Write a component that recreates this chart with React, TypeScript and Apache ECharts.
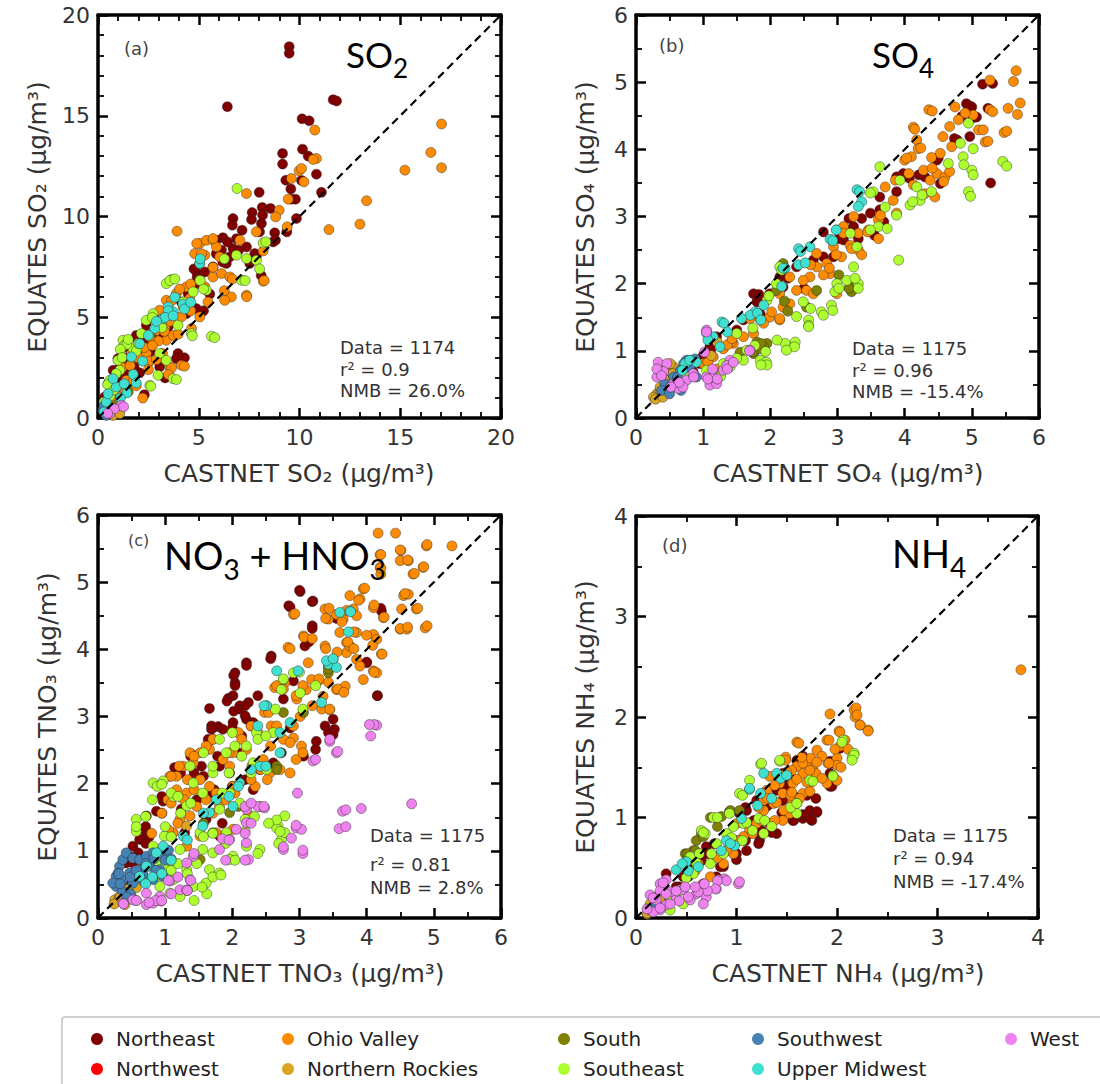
import React, { useEffect, useRef } from "react";
import * as echarts from "echarts";

// ---------------- regions ----------------
const REGION_NAMES = ["Northeast", "Northwest", "Ohio Valley", "Northern Rockies", "South", "Southeast", "Southwest", "Upper Midwest", "West"];
const REGION_COLORS = ["#800000", "#ff0000", "#ff8c00", "#daa520", "#808000", "#adff2f", "#4682b4", "#40e0d0", "#ee82ee"];

// ---------------- (a) SO2 ----------------
const so2Northeast = [[9.49,18.43],[9.49,18.1],[6.42,15.45],[11.67,15.8],[11.84,15.73],[10.13,14.85],[10.48,14.75],[9.16,13.13],[9.16,12.6],[10.15,13.34],[10.43,13.0],[10.84,12.1],[11.09,11.2],[9.32,11.8],[9.57,11.37],[9.6,10.86],[9.8,10.86],[10.1,11.79],[8.0,11.2],[7.65,10.2],[8.15,10.45],[6.7,9.9],[7.15,9.32],[9.85,9.9],[8.77,9.19],[8.56,10.4],[8.11,9.65],[6.2,8.95],[6.87,8.9],[7.37,8.49],[6.13,8.33],[6.54,8.0],[7.78,8.16],[8.69,8.74],[4.92,7.17],[4.97,6.67],[4.47,6.18],[4.14,5.76],[4.88,5.43],[3.73,5.18],[2.9,4.85],[2.4,4.6],[1.9,4.1],[1.4,3.53],[0.99,2.95],[0.75,2.37],[0.5,1.7],[0.33,1.04],[1.74,2.86],[1.49,2.53],[2.07,3.28],[2.57,3.69],[3.06,2.53],[3.97,3.2],[3.89,2.95],[3.23,4.19],[3.48,4.52],[4.39,5.18],[5.3,7.25],[5.71,7.5],[6.37,7.67],[6.7,8.41],[7.53,7.67],[7.86,8.0],[2.07,2.24],[2.52,2.78],[1.27,1.46],[0.91,1.04],[0.41,0.55],[1.08,2.04],[6.67,9.57],[7.62,9.85],[8.17,10.07],[8.81,8.82],[9.37,9.24],[8.02,9.24],[5.87,8.82],[6.43,8.74],[6.98,8.32],[5.87,8.15],[6.19,7.74],[4.76,7.4],[4.92,6.98],[5.55,6.15],[5.24,5.32],[2.78,3.82],[1.9,3.99],[1.27,2.99],[1.03,2.32],[0.63,1.66],[0.79,1.08],[4.29,2.99],[3.33,1.99],[2.3,1.16],[8.1,7.07],[0.6,1.3],[0.8,1.8],[1.1,2.6],[1.3,2.2],[1.6,3.1],[1.8,2.5],[2.2,3.6],[2.6,3.3],[0.45,0.9],[0.7,0.6],[1.2,1.2],[1.5,1.9],[2.0,2.9],[2.4,3.9],[2.8,4.3]];
const so2Northwest: number[][] = [];
const so2OhioValley = [[17.05,14.59],[16.52,13.18],[17.05,12.42],[15.23,12.3],[13.33,10.78],[13.0,9.62],[11.46,9.35],[10.76,14.29],[10.84,12.88],[10.68,12.83],[9.98,12.27],[10.1,12.38],[9.6,11.89],[10.22,11.72],[9.44,10.86],[8.99,10.31],[8.82,9.98],[9.39,9.49],[7.37,11.14],[3.92,9.27],[7.86,9.24],[8.2,8.29],[8.2,6.79],[7.37,6.09],[6.62,6.01],[6.29,5.84],[7.04,8.82],[5.05,8.66],[5.38,8.82],[5.71,8.82],[5.88,8.49],[4.8,8.16],[5.3,8.08],[6.04,8.0],[5.05,7.67],[5.71,7.0],[6.13,7.17],[6.54,7.0],[5.3,6.51],[4.39,6.51],[3.89,6.18],[4.55,5.93],[4.22,5.51],[3.39,5.84],[3.06,5.35],[3.48,5.1],[4.14,5.02],[2.9,4.35],[2.57,4.02],[2.07,3.69],[3.39,3.86],[3.73,4.1],[4.14,2.62],[3.56,2.53],[2.24,2.86],[1.74,2.2],[1.41,1.87],[1.08,1.21],[0.75,0.71],[1.66,3.2],[2.4,3.2],[4.64,4.44],[5.05,5.02],[5.46,5.76],[4.9,8.66],[5.71,8.91],[5.14,8.15],[5.71,7.48],[6.67,6.9],[6.27,6.32],[7.38,6.02],[8.25,6.82],[4.6,6.65],[4.05,6.4],[3.65,5.82],[4.6,5.32],[3.33,4.49],[3.98,4.16],[3.0,3.82],[1.9,2.99],[2.54,2.82],[3.65,2.49],[4.29,2.57],[3.49,2.16],[1.75,1.82],[1.27,1.49],[2.22,0.99],[0.79,0.82],[0.5,0.9],[0.9,1.5],[1.2,2.5],[1.6,2.6],[2.0,3.0],[2.3,3.5],[2.7,3.6],[3.0,4.6],[3.3,4.3],[3.6,4.8],[2.5,2.4],[1.9,1.6],[3.2,3.2],[2.9,2.9]];
const so2NorthernRockies = [[0.5,0.2],[0.75,0.13],[1.08,0.22],[0.6,0.45]];
const so2South = [[0.91,0.63],[1.5,1.3]];
const so2Southeast = [[6.9,11.39],[3.64,6.87],[3.39,6.67],[5.63,4.06],[4.64,4.19],[2.57,1.62],[3.73,1.95],[2.98,2.12],[1.24,3.86],[1.32,3.61],[0.99,2.86],[2.4,4.85],[2.73,5.18],[0.58,1.87],[7.37,7.91],[8.2,8.69],[6.87,8.08],[7.12,6.84],[7.86,7.83],[5.05,6.84],[5.38,6.34],[4.72,6.26],[4.22,5.76],[3.56,5.1],[3.97,4.6],[2.15,4.19],[1.74,3.44],[3.06,3.2],[3.39,2.86],[1.08,2.37],[3.57,6.82],[3.81,6.9],[5.79,3.99],[4.68,4.08],[3.89,1.91],[2.62,1.58],[1.43,3.66],[1.11,3.41],[0.48,1.66],[6.27,7.9],[8.02,7.4],[8.33,8.74],[7.3,6.82],[2.7,4.99],[3.17,4.49],[5.07,6.82],[5.24,6.4],[1.9,3.32],[0.3,0.8],[0.6,1.1],[0.9,2.2],[1.5,3.9],[1.2,3.0],[2.0,3.7],[0.8,1.4]];
const so2Southwest = [[0.25,0.38],[0.41,0.13],[0.3,0.6]];
const so2UpperMidwest = [[3.48,5.51],[3.73,5.26],[4.22,5.65],[5.05,7.67],[3.23,4.93],[2.81,4.44],[2.07,3.69],[1.66,3.03],[0.91,1.54],[0.75,1.95],[0.41,0.79],[5.07,7.9],[3.81,5.99],[4.29,5.41],[4.6,5.74],[3.49,5.32],[3.33,4.99],[3.73,5.07],[2.22,2.82],[1.75,2.16],[1.9,1.74],[1.43,1.24],[1.11,0.99],[0.3,0.3],[0.5,1.2],[1.3,1.7],[2.5,4.1],[2.9,4.8]];
const so2West = [[0.58,0.22],[1.16,0.63],[0.83,0.46],[0.48,0.23],[1.27,0.56]];

// ---------------- (b) SO4 ----------------
const so4Northeast = [[5.16,4.97],[5.31,4.98],[5.24,4.61],[5.28,3.5],[4.92,4.68],[5.0,4.63],[5.02,4.47],[4.85,4.49],[4.97,4.19],[4.78,4.14],[4.48,3.84],[4.53,3.49],[4.3,3.59],[3.98,3.64],[3.88,3.59],[3.63,3.29],[3.49,3.05],[3.36,2.97],[3.24,2.85],[3.14,2.8],[2.99,2.8],[3.09,2.65],[2.94,2.4],[2.79,2.4],[2.64,2.35],[2.39,2.25],[2.19,2.15],[2.14,2.1],[2.19,1.95],[1.99,1.85],[1.75,1.85],[1.8,1.73],[1.85,1.55],[1.6,1.46],[1.5,1.31],[1.2,1.21],[1.1,1.06],[1.05,0.96],[0.95,0.81],[0.85,0.69],[3.63,3.1],[3.17,2.97],[3.31,2.67],[3.55,2.72],[3.69,2.92],[3.88,3.37],[4.07,3.57],[4.21,3.62],[4.5,3.87],[4.74,4.16],[5.07,4.48],[4.98,4.64],[1.81,1.74],[1.83,1.84],[2.26,2.08],[2.5,1.93],[1.12,1.03],[1.0,0.93],[3.02,2.67],[2.79,2.77]];
const so4Northwest: number[][] = [];
const so4OhioValley = [[5.66,5.17],[5.62,5.01],[5.72,4.69],[5.68,4.52],[5.54,4.61],[5.27,5.03],[5.27,4.59],[5.48,4.25],[5.2,4.11],[5.1,4.29],[5.02,4.51],[4.9,4.54],[4.75,4.63],[4.8,4.44],[4.67,4.34],[4.57,4.19],[4.7,4.04],[4.53,3.94],[4.4,3.88],[4.36,4.59],[4.13,4.33],[4.18,4.14],[4.2,4.01],[4.1,3.89],[4.0,3.84],[4.06,3.64],[4.28,3.69],[4.38,3.54],[4.48,3.64],[4.6,3.59],[4.45,3.29],[4.3,3.34],[4.13,3.47],[3.86,3.54],[3.71,3.44],[3.83,3.24],[3.88,3.05],[3.61,2.95],[3.61,2.67],[3.46,2.8],[3.31,2.75],[3.24,3.0],[3.09,2.85],[3.09,2.75],[3.19,2.57],[3.31,2.5],[3.06,2.4],[2.94,2.55],[2.84,2.3],[2.69,2.45],[2.69,2.25],[2.59,2.1],[2.49,2.05],[2.39,1.9],[2.54,1.9],[2.29,1.7],[2.19,1.65],[2.14,1.85],[1.99,1.5],[1.9,1.41],[1.75,1.26],[1.6,1.21],[1.45,1.11],[1.3,1.03],[1.15,0.91],[1.0,0.81],[2.99,1.85],[2.89,2.15],[2.64,1.85],[2.29,2.1],[2.14,1.46],[1.8,1.55],[1.7,1.48],[1.42,1.13],[4.41,4.57],[4.15,4.3],[4.03,3.87],[4.24,4.02],[4.41,3.72],[4.58,3.52],[4.67,3.67],[5.24,4.12],[5.31,4.56],[5.52,4.27],[5.17,4.29],[2.6,2.28],[2.79,2.13],[2.88,2.23],[2.98,2.43],[3.21,2.52],[3.36,2.43],[3.45,2.77],[3.64,3.02],[2.02,1.58],[2.14,1.48],[1.36,1.09],[1.43,1.18],[1.07,0.83],[1.21,0.73]];
const so4NorthernRockies = [[0.31,0.36],[0.38,0.46],[0.46,0.56],[0.51,0.66],[0.43,0.74],[0.36,0.41],[0.61,0.71],[0.26,0.31],[0.56,0.76],[0.51,0.81],[0.29,0.28],[0.36,0.46],[0.45,0.56],[0.55,0.66],[0.4,0.31],[1.12,0.93],[1.21,1.13]];
const so4South = [[3.21,1.95],[2.69,1.9],[2.54,1.65],[1.95,1.11],[1.8,1.13],[1.9,1.06],[2.09,1.9],[2.19,2.3],[1.75,0.96],[3.21,1.88],[3.17,1.93],[3.02,2.13],[2.21,1.74],[2.26,1.59],[1.83,1.03],[1.86,1.11],[1.74,0.98],[1.55,0.98]];
const so4Southeast = [[5.46,3.82],[4.95,3.37],[5.0,3.69],[4.87,3.89],[5.02,4.01],[4.83,4.09],[4.95,4.39],[4.65,3.79],[4.18,3.44],[4.08,3.17],[4.23,3.24],[3.93,3.54],[3.91,2.35],[3.53,3.37],[3.71,3.14],[3.61,2.85],[3.49,2.8],[3.29,2.55],[3.24,2.25],[3.31,2.0],[3.14,2.05],[2.99,2.0],[2.96,1.88],[2.91,1.68],[2.76,1.58],[2.57,1.46],[2.57,1.38],[2.49,1.73],[2.39,1.51],[2.37,1.13],[2.22,1.11],[2.14,2.25],[2.09,2.0],[1.95,1.75],[1.85,1.46],[1.77,1.08],[1.85,0.86],[1.94,0.83],[1.65,1.01],[1.6,0.86],[1.5,1.26],[1.3,0.81],[1.23,0.61],[1.4,0.76],[1.05,0.71],[0.8,0.61],[3.63,3.74],[3.49,3.35],[3.19,2.75],[2.79,1.53],[2.93,1.6],[2.57,1.36],[2.36,1.06],[2.24,1.01],[1.95,0.79],[1.86,0.79],[2.1,1.16],[2.6,1.63],[3.02,1.93],[3.26,2.08],[3.31,1.93],[3.74,2.82],[3.88,3.02],[4.12,3.22],[4.26,3.32],[4.4,3.37],[4.88,3.77],[4.98,3.3],[5.02,3.62],[5.52,3.75],[1.36,0.74],[1.26,0.62],[1.5,0.89],[1.93,0.99],[1.74,1.34],[2.17,2.2],[1.98,1.82]];
const so4Southwest = [[0.75,0.86],[0.66,0.71],[0.56,0.61],[0.43,0.51],[0.8,0.76],[0.9,0.61],[0.68,0.51],[0.51,0.46],[0.38,0.41],[0.61,0.56],[0.62,0.61],[0.71,0.81],[0.79,0.86],[0.88,0.88],[0.55,0.46],[0.67,0.41],[0.5,0.36]];
const so4UpperMidwest = [[3.29,3.4],[3.36,3.22],[2.89,2.66],[2.59,2.55],[2.42,2.52],[2.42,2.28],[2.22,2.23],[1.77,1.58],[1.7,1.53],[1.28,1.43],[1.15,1.21],[1.05,1.26],[1.25,1.06],[0.9,0.83],[0.73,0.81],[1.57,1.48],[1.9,1.68],[3.33,3.37],[3.31,3.15],[2.98,2.8],[2.93,2.64],[2.45,2.48],[2.52,2.31],[2.19,2.23],[2.17,1.96],[1.81,1.56],[1.86,1.46],[1.31,1.41],[1.36,1.28],[1.07,1.16],[0.8,0.86],[0.69,0.71]];
const so4West = [[0.33,0.83],[0.46,0.81],[0.41,0.69],[0.31,0.61],[0.56,0.51],[0.63,0.44],[0.75,0.56],[0.85,0.66],[1.05,1.31],[1.05,0.61],[1.1,0.49],[1.2,0.51],[1.15,0.61],[1.3,0.71],[1.4,0.86],[1.35,0.78],[1.7,1.01],[0.7,0.46],[1.05,1.28],[1.02,0.98],[1.14,0.73],[1.07,0.58],[1.21,0.58],[1.36,0.73],[1.45,0.83],[1.69,1.0],[0.86,0.61],[0.64,0.53],[0.31,0.73],[0.38,0.63],[0.52,0.46]];

// ---------------- (c) TNO3 ----------------
const tno3Northeast = [[3.01,4.86],[2.84,4.65],[3.2,4.72],[4.22,4.57],[3.61,4.52],[3.19,4.35],[3.08,4.05],[2.58,3.9],[2.21,3.8],[2.04,3.65],[2.04,3.5],[2.01,3.31],[1.94,3.27],[2.24,3.21],[2.11,3.16],[1.66,3.12],[1.69,2.86],[1.79,2.85],[4.0,3.8],[4.16,3.31],[3.5,2.96],[3.38,2.86],[3.52,2.81],[3.25,2.63],[3.06,2.41],[2.73,2.46],[2.61,2.31],[2.41,2.21],[2.21,2.96],[2.31,2.91],[2.01,2.91],[2.09,2.46],[1.96,2.16],[1.81,2.26],[1.54,2.26],[1.39,2.44],[1.14,2.24],[1.73,1.91],[1.61,1.47],[1.47,1.76],[1.24,1.62],[1.29,1.27],[0.97,1.74],[0.87,1.59],[0.72,1.52],[0.67,1.32],[0.72,1.22],[0.62,1.17],[0.52,1.07],[0.47,0.92],[0.42,0.82],[0.6,0.97],[0.52,0.82],[2.31,1.91],[1.81,1.22],[2.76,3.26],[2.91,3.53],[3.0,4.88],[2.86,4.63],[3.19,4.71],[3.55,4.46],[4.21,4.61],[3.19,4.31],[3.14,4.11],[4.0,3.81],[4.16,3.31],[2.57,3.86],[2.21,3.76],[2.02,3.61],[2.04,3.46],[1.92,3.23],[2.02,3.08],[2.11,3.11],[2.19,3.01],[2.19,3.16],[2.38,3.31],[2.28,2.86],[2.14,2.71],[2.0,2.83],[1.86,2.81],[1.69,2.81],[1.64,2.66],[1.78,2.41],[1.38,2.41],[1.23,2.16],[1.43,2.16],[1.57,2.11],[0.95,1.81],[0.95,1.56],[0.71,1.36],[0.76,1.21],[0.71,1.11],[0.57,0.91],[0.67,0.73],[0.48,0.51],[2.86,2.83],[3.24,2.51],[3.43,2.76],[3.5,2.73],[2.52,2.26],[2.19,2.06],[2.0,1.96],[1.71,1.86],[1.85,1.41]];
const tno3Northwest: number[][] = [];
const tno3OhioValley = [[4.17,5.73],[4.43,5.73],[5.27,5.54],[4.89,5.54],[4.2,5.41],[4.51,5.47],[4.5,5.32],[4.62,5.32],[4.2,5.22],[4.21,5.12],[4.69,5.12],[4.84,5.22],[3.95,4.9],[3.75,4.8],[3.9,4.75],[4.55,4.8],[4.62,4.82],[4.52,4.6],[4.74,4.6],[4.87,4.32],[4.5,4.3],[4.6,4.3],[4.25,4.47],[4.1,4.62],[4.1,4.22],[4.15,4.15],[4.22,3.93],[4.1,3.68],[4.15,3.65],[3.38,4.6],[3.43,4.45],[3.55,4.52],[3.65,4.45],[3.6,4.25],[3.8,4.6],[3.85,4.5],[3.85,4.25],[2.91,4.52],[2.83,4.03],[3.06,4.2],[3.13,3.8],[3.38,4.05],[3.43,3.75],[3.5,3.85],[3.7,4.1],[3.7,3.95],[3.75,4.05],[3.85,3.85],[3.9,3.75],[3.95,3.55],[3.68,3.45],[3.55,3.4],[3.45,3.1],[3.35,3.3],[3.28,3.53],[3.18,3.55],[3.1,3.4],[2.96,3.26],[3.01,3.0],[2.91,2.86],[2.78,3.5],[2.63,3.43],[2.51,3.16],[2.48,3.06],[2.58,2.86],[2.76,2.66],[2.91,2.68],[3.03,2.56],[2.38,2.76],[2.21,2.51],[2.29,2.26],[2.09,2.76],[2.01,2.46],[1.96,2.26],[1.86,2.36],[1.71,2.66],[1.66,2.51],[1.52,2.46],[1.42,2.31],[1.37,2.46],[1.27,2.26],[1.17,2.11],[1.07,2.11],[1.04,1.76],[1.17,1.91],[1.32,1.86],[1.52,2.06],[1.66,1.96],[1.76,1.86],[2.01,1.96],[2.11,2.01],[2.34,1.96],[2.41,1.66],[2.24,1.54],[1.81,1.66],[1.61,1.76],[1.37,1.52],[1.22,1.47],[1.12,1.27],[1.32,1.07],[0.92,0.97],[0.77,0.87],[0.67,0.77],[1.52,1.22],[1.76,1.27],[2.01,1.32],[2.46,2.36],[2.56,2.16],[4.9,5.56],[4.5,5.48],[4.61,5.33],[4.85,5.23],[4.71,5.13],[4.21,5.41],[4.21,5.21],[4.57,4.83],[4.76,4.61],[4.5,4.31],[4.61,4.33],[4.9,4.35],[3.97,4.91],[3.88,4.73],[4.11,4.66],[4.26,4.48],[4.0,4.21],[4.09,4.06],[4.23,3.93],[4.11,3.66],[3.7,4.58],[3.63,4.41],[3.81,4.26],[3.72,4.11],[3.81,4.01],[3.44,4.61],[3.39,4.46],[2.93,4.53],[2.86,4.01],[3.07,4.18],[3.19,4.16],[3.39,4.01],[3.56,3.96],[3.29,3.56],[3.43,3.51],[3.57,3.41],[2.66,3.46],[2.76,3.41],[2.95,3.31],[3.05,3.46],[3.19,3.16],[3.33,3.11],[3.45,3.11],[3.66,3.36],[2.54,3.06],[2.66,2.86],[2.86,2.61],[2.95,2.36],[3.05,2.46],[2.57,2.56],[2.28,2.86],[2.14,2.66],[1.95,2.46],[1.71,2.66],[1.61,2.56],[1.43,2.41],[1.21,2.26],[1.09,2.11],[1.33,2.06],[1.43,1.91],[1.28,1.76],[1.09,1.71],[0.95,1.56],[0.8,1.26],[1.05,1.31],[1.19,1.41],[1.47,1.66],[1.71,1.56],[1.9,1.76],[2.04,1.86],[2.28,2.06],[2.42,2.21],[2.52,2.06],[2.71,2.21],[2.86,2.16]];
const tno3NorthernRockies = [[0.25,0.27],[0.32,0.32],[0.42,0.42],[0.5,0.32],[0.4,0.2],[0.57,0.45],[0.72,0.57],[1.32,1.37],[0.24,0.21],[0.33,0.31],[0.45,0.43],[0.57,0.26],[0.95,0.81],[1.05,0.76],[0.9,0.71]];
const tno3South = [[3.43,3.65],[2.66,2.26],[1.71,1.27],[1.96,1.57],[1.52,0.87],[3.06,3.06],[3.43,3.71],[2.76,3.06],[2.66,2.21],[1.57,1.41],[2.09,1.66]];
const tno3Southeast = [[0.82,2.01],[0.97,2.04],[0.57,1.47],[0.57,1.29],[0.82,1.07],[0.99,1.22],[1.12,1.81],[1.37,2.26],[1.42,2.01],[1.56,1.86],[1.91,2.46],[2.04,2.56],[2.21,2.56],[2.31,2.31],[1.96,1.86],[2.11,1.71],[2.19,1.47],[1.91,1.27],[2.01,0.92],[1.96,0.87],[2.21,1.07],[2.41,1.02],[1.66,0.72],[1.81,0.67],[1.61,0.52],[1.42,0.47],[1.22,0.32],[1.07,0.37],[1.32,0.72],[1.12,0.57],[1.56,1.02],[1.71,0.97],[2.73,1.17],[2.78,1.27],[2.78,1.52],[2.68,1.37],[2.66,1.34],[2.51,2.21],[2.61,2.76],[2.76,3.55],[2.73,3.4],[2.91,3.65],[3.01,3.35],[1.32,1.67],[1.22,1.02],[0.97,0.77],[0.87,0.62],[0.92,0.47],[1.52,1.27],[1.81,1.62],[1.71,2.16],[2.36,2.76],[0.88,1.96],[0.95,1.99],[0.57,1.36],[0.71,1.51],[1.09,1.86],[1.19,1.81],[0.81,1.76],[1.0,1.36],[1.09,1.21],[0.95,1.01],[0.86,0.81],[1.09,0.71],[1.33,0.41],[1.43,0.26],[1.62,0.36],[1.71,0.61],[1.83,0.64],[1.55,0.46],[1.33,0.66],[1.19,0.81],[1.47,0.81],[1.57,1.21],[1.71,1.26],[1.9,1.11],[2.04,0.86],[2.19,1.29],[2.38,0.96],[2.66,1.46],[2.71,1.29],[2.69,1.11],[2.54,1.41],[2.33,1.51],[1.85,1.86],[1.95,2.16],[1.71,2.26],[1.57,2.46],[1.81,2.66],[2.0,2.76],[2.38,2.66],[2.5,2.71],[2.64,3.11],[2.76,3.56],[3.0,3.66],[3.05,3.11],[3.24,3.46],[1.38,1.71],[1.23,1.56],[2.14,2.41],[2.28,2.16]];
const tno3Southwest = [[0.27,0.47],[0.27,0.62],[0.32,0.77],[0.37,0.87],[0.42,0.97],[0.52,0.89],[0.62,0.87],[0.72,0.92],[0.82,0.97],[0.77,0.77],[0.62,0.72],[0.47,0.67],[0.37,0.57],[0.92,0.72],[0.97,0.62],[0.82,0.57],[0.52,0.52],[0.22,0.52],[0.3,0.67],[0.67,0.65],[0.36,0.41],[0.48,0.61],[0.57,0.71],[0.71,0.81],[0.83,0.88],[0.95,0.96],[1.0,0.86],[0.86,0.71],[0.67,0.56],[0.31,0.66],[0.33,0.51],[0.48,0.36],[1.05,1.01],[1.09,0.88],[0.43,0.31]];
const tno3UpperMidwest = [[3.6,4.55],[3.75,4.57],[3.43,3.78],[3.55,3.73],[2.51,3.16],[2.71,2.76],[2.86,2.91],[3.33,3.21],[2.41,2.26],[2.11,2.01],[2.01,1.66],[1.76,1.76],[1.56,1.37],[0.97,1.07],[0.87,0.97],[0.72,0.77],[0.62,0.62],[1.27,1.22],[1.66,1.57],[2.66,3.68],[2.98,3.68],[3.4,3.83],[3.5,3.86],[3.73,4.26],[3.76,4.56],[2.47,3.16],[2.38,2.86],[2.71,2.46],[2.5,2.26],[2.28,2.21],[2.09,1.96],[1.95,1.81],[1.57,1.56],[1.33,1.16],[1.09,0.86],[0.95,0.66],[0.81,0.61],[0.71,0.51]];
const tno3West = [[4.15,2.87],[4.06,2.71],[4.11,2.88],[3.45,2.63],[3.55,2.46],[3.2,2.34],[2.97,1.86],[3.92,1.63],[3.64,1.59],[4.67,1.7],[3.59,1.33],[2.95,1.34],[3.03,1.32],[2.88,1.19],[2.76,1.02],[3.05,0.96],[2.38,1.66],[2.48,1.64],[2.21,1.62],[2.21,1.42],[2.21,1.12],[2.06,1.32],[1.96,1.17],[1.81,1.02],[2.24,0.87],[1.42,0.92],[1.32,0.82],[1.37,0.57],[1.22,0.42],[1.32,0.42],[0.92,0.32],[0.82,0.22],[0.72,0.2],[0.52,0.27],[0.37,0.22],[0.94,0.25],[1.07,0.55],[0.72,0.37],[4.04,2.88],[3.45,2.66],[3.57,2.48],[3.24,2.36],[3.69,1.61],[3.69,1.36],[2.95,1.38],[2.76,1.06],[3.05,1.01],[2.19,1.66],[2.28,1.71],[2.47,1.66],[2.28,1.41],[2.19,1.26],[1.85,1.18],[1.95,1.16],[1.9,0.86],[2.19,0.86],[1.43,0.96],[1.19,0.61],[1.33,0.41],[1.09,0.36],[0.86,0.26],[0.76,0.23],[0.95,0.26],[1.05,0.56],[1.38,0.56],[0.38,0.21],[0.57,0.26]];

// ---------------- (d) NH4 ----------------
const nh4Northeast = [[2.03,1.69],[1.95,1.54],[1.93,1.31],[1.93,1.44],[1.8,1.05],[1.75,0.97],[1.66,0.99],[1.56,0.97],[1.7,1.22],[1.73,1.07],[1.46,1.17],[1.53,1.41],[1.66,1.59],[1.4,0.84],[1.33,0.94],[1.23,0.77],[1.1,0.67],[1.0,0.58],[0.87,0.51],[0.8,0.41],[0.67,0.34],[0.6,0.58],[0.54,0.51],[0.47,0.41],[0.4,0.31],[0.34,0.21],[0.27,0.14],[1.13,0.84],[1.0,0.77],[1.46,1.44],[1.4,1.27],[1.1,1.07],[1.2,1.17],[1.17,0.97],[0.8,0.61],[0.7,0.71],[1.3,1.11],[2.03,1.69],[1.93,1.56],[1.95,1.31],[1.79,1.19],[1.8,1.06],[1.74,0.98],[1.66,1.03],[1.57,0.97],[1.54,1.06],[1.6,1.57],[1.66,1.61],[1.47,1.39],[1.41,1.29],[1.31,1.12],[1.19,0.97],[1.25,0.87],[1.22,0.74],[1.09,0.77],[1.0,0.64],[0.9,0.67],[0.84,0.51],[0.78,0.74],[0.71,0.64],[0.65,0.57],[0.59,0.51],[0.52,0.41],[0.43,0.31],[0.37,0.21],[0.3,0.44],[1.03,1.04],[1.09,1.1],[1.5,1.3],[1.6,1.2],[1.45,1.05],[1.35,0.85],[1.2,0.85]];
const nh4Northwest: number[][] = [];
const nh4OhioValley = [[3.83,2.47],[1.93,2.03],[2.17,2.07],[2.18,2.0],[2.23,1.92],[2.31,1.87],[2.02,1.86],[1.9,1.77],[2.08,1.77],[1.6,1.75],[1.8,1.67],[1.49,1.6],[2.0,1.59],[2.0,1.52],[1.91,1.54],[1.7,1.54],[1.76,1.47],[1.66,1.44],[1.6,1.51],[1.56,1.34],[1.46,1.24],[1.43,1.34],[1.37,1.14],[1.27,1.07],[1.2,0.94],[1.13,0.87],[1.07,0.81],[1.56,1.17],[1.66,1.24],[1.73,1.34],[1.46,0.97],[1.53,1.04],[1.33,1.41],[1.3,1.27],[1.9,1.34],[2.03,1.71],[0.97,0.64],[0.87,0.54],[0.74,0.41],[0.64,0.31],[1.27,1.17],[2.19,2.09],[2.2,2.02],[2.23,1.92],[2.31,1.86],[2.03,1.85],[1.92,1.77],[2.11,1.68],[1.62,1.74],[1.85,1.61],[1.98,1.68],[1.92,1.54],[2.04,1.5],[1.74,1.59],[1.79,1.44],[1.66,1.54],[1.6,1.38],[1.49,1.57],[1.44,1.42],[1.38,1.32],[1.54,1.22],[1.63,1.19],[1.73,1.26],[1.47,1.07],[1.38,0.97],[1.25,0.97],[1.22,1.1],[1.31,1.19],[1.16,0.84],[1.03,0.77],[1.0,0.94],[0.9,0.67],[0.81,0.6],[0.62,0.54],[0.59,0.47],[1.85,1.39],[2.0,1.37],[1.73,1.47],[1.55,1.47],[1.5,1.45],[1.7,1.35],[1.8,1.55],[1.4,1.15],[1.55,1.25],[1.65,1.6]];
const nh4NorthernRockies = [[0.11,0.04],[0.14,0.11],[0.2,0.21],[0.17,0.16],[0.26,0.24],[0.11,0.05],[0.14,0.14],[0.19,0.19],[0.24,0.2]];
const nh4South = [[0.93,1.06],[0.85,1.01],[0.74,1.0],[0.65,0.84],[0.6,0.77],[0.49,0.64],[0.57,0.67],[0.94,1.07],[1.03,1.07],[0.67,0.81],[0.81,0.91],[0.51,0.64],[0.59,0.67]];
const nh4Southeast = [[1.24,1.53],[1.43,1.56],[1.96,1.42],[2.06,1.77],[2.15,1.6],[2.17,1.64],[0.77,1.0],[0.65,0.87],[0.69,0.84],[0.93,1.04],[1.03,1.24],[1.13,1.37],[1.22,0.99],[1.07,0.94],[1.27,0.84],[1.6,1.14],[1.6,1.04],[1.73,1.37],[0.8,0.74],[0.87,0.64],[0.74,0.54],[0.57,0.44],[0.44,0.28],[0.34,0.08],[0.47,0.14],[0.97,0.91],[1.25,1.54],[1.43,1.57],[2.05,1.75],[2.17,1.62],[2.15,1.57],[1.96,1.41],[1.76,1.36],[1.06,1.22],[0.81,1.0],[0.67,0.85],[0.9,0.84],[0.54,0.61],[0.63,0.64],[0.75,0.64],[1.06,0.77],[1.16,0.87],[1.28,0.97],[1.54,1.1],[1.6,1.14],[0.43,0.27],[0.34,0.17],[1.35,0.91],[0.95,0.8],[1.1,0.95],[0.6,0.55],[0.5,0.4]];
const nh4Southwest = [[0.14,0.08],[0.2,0.13]];
const nh4UpperMidwest = [[1.13,1.28],[1.05,0.99],[1.27,1.44],[0.9,0.77],[0.5,0.56],[0.4,0.48],[1.4,1.44],[0.98,0.72],[1.13,1.29],[1.21,1.12],[1.35,1.19],[1.24,1.24],[0.94,0.74],[0.46,0.54],[0.85,0.67],[1.44,1.39],[1.5,1.42],[0.62,0.51],[0.52,0.47]];
const nh4West = [[0.88,0.39],[0.82,0.38],[1.02,0.34],[0.8,0.29],[0.7,0.21],[0.6,0.24],[0.54,0.18],[0.4,0.19],[0.3,0.38],[0.24,0.34],[0.14,0.23],[0.2,0.18],[0.3,0.13],[0.24,0.08],[0.17,0.06],[0.34,0.26],[0.47,0.28],[0.67,0.14],[0.11,0.09],[1.03,0.36],[0.9,0.37],[0.81,0.37],[0.79,0.29],[0.71,0.27],[0.62,0.26],[0.52,0.21],[0.43,0.17],[0.34,0.14],[0.24,0.1],[0.17,0.2],[0.24,0.27],[0.3,0.24],[0.4,0.27],[0.49,0.31],[0.59,0.31],[0.68,0.34],[0.27,0.35]];

// ---------------- panel texts & axes ----------------
const PANEL_SERIES = [
  [so2Northeast, so2Northwest, so2OhioValley, so2NorthernRockies, so2South, so2Southeast, so2Southwest, so2UpperMidwest, so2West],
  [so4Northeast, so4Northwest, so4OhioValley, so4NorthernRockies, so4South, so4Southeast, so4Southwest, so4UpperMidwest, so4West],
  [tno3Northeast, tno3Northwest, tno3OhioValley, tno3NorthernRockies, tno3South, tno3Southeast, tno3Southwest, tno3UpperMidwest, tno3West],
  [nh4Northeast, nh4Northwest, nh4OhioValley, nh4NorthernRockies, nh4South, nh4Southeast, nh4Southwest, nh4UpperMidwest, nh4West],
];
const AXIS_MAX = [20, 6, 6, 4];
const AXIS_INTERVAL = [5, 1, 1, 1];
const MINOR_SPLIT = [5, 2, 2, 2];
const X_TITLES = ["CASTNET SO₂ (µg/m³)", "CASTNET SO₄ (µg/m³)", "CASTNET TNO₃ (µg/m³)", "CASTNET NH₄ (µg/m³)"];
const Y_TITLES = ["EQUATES SO₂ (µg/m³)", "EQUATES SO₄ (µg/m³)", "EQUATES TNO₃ (µg/m³)", "EQUATES NH₄ (µg/m³)"];
const PANEL_TAGS = ["(a)", "(b)", "(c)", "(d)"];
// species labels: [text, isSubscript]
const SPECIES_PARTS: [string, boolean][][] = [
  [["SO", false], ["2", true]],
  [["SO", false], ["4", true]],
  [["NO", false], ["3", true], [" + HNO", false], ["3", true]],
  [["NH", false], ["4", true]],
];
const STATS = [
  ["Data = 1174", "r² = 0.9", "NMB = 26.0%"],
  ["Data = 1175", "r² = 0.96", "NMB = -15.4%"],
  ["Data = 1175", "r² = 0.81", "NMB = 2.8%"],
  ["Data = 1175", "r² = 0.94", "NMB = -17.4%"],
];
const LEGEND_COLUMNS = [["Northeast", "Northwest"], ["Ohio Valley", "Northern Rockies"], ["South", "Southeast"], ["Southwest", "Upper Midwest"], ["West"]];

// ---------------- layout ----------------
const FONT = "'DejaVu Sans', sans-serif";
const BIG_FONT = "Lato, 'Open Sans', sans-serif";
const GRID_RECT = [[98, 15, 403, 403], [636, 15, 403, 403], [98, 515, 403, 403], [636, 516, 402, 402]];
const X_TITLE_POS = [[299, 473], [848, 473], [300, 973], [848, 973]];
const Y_TITLE_POS = [[37, 217], [585, 217], [47, 717], [585, 717]];
const TAG_POS = [[124, 48], [659, 45], [128, 540], [662, 545]];
const TAG_SIZE = [18, 18, 16, 18];
const LABEL_POS = [[346, 54], [872, 54], [164, 555], [892, 553]];
const LABEL_SIZE = [[35, 26], [35, 26], [38, 28], [38, 28]];
const STATS_POS = [[340, [347, 369, 390]], [852, [348, 370, 391]], [370, [835, 864, 887]], [893, [835, 858, 881]]] as const;
const LEGEND_X = [97, 288, 564, 758, 1011];

function textWidth(text: string, font: string) {
  const ctx = document.createElement("canvas").getContext("2d");
  if (!ctx) return text.length * 18;
  ctx.font = font;
  return ctx.measureText(text).width;
}

function buildOption() {
  const grid = GRID_RECT.map(([l, t, w, h]) => ({ left: l, top: t, width: w, height: h, outerBoundsMode: "none" }));
  const xAxis: any[] = [];
  const yAxis: any[] = [];
  AXIS_MAX.forEach((max, i) => {
    const mk = (position: string, showLabel: boolean) => ({
      type: "value",
      gridIndex: i,
      min: 0,
      max,
      interval: AXIS_INTERVAL[i],
      position,
      axisLine: { show: true, onZero: false, lineStyle: { color: "#000", width: 3.5 } },
      axisTick: { show: true, inside: true, length: 10, lineStyle: { color: "#000", width: 2.5 } },
      minorTick: { show: true, splitNumber: MINOR_SPLIT[i], length: 6, lineStyle: { color: "#000", width: 1.8 } },
      axisLabel: { show: showLabel, fontSize: 22, color: "#333", fontFamily: FONT, margin: 8, showMinLabel: true, showMaxLabel: true },
      splitLine: { show: false },
      minorSplitLine: { show: false },
    });
    xAxis.push(mk("bottom", true), mk("top", false));
    yAxis.push(mk("left", true), mk("right", false));
  });

  const series: any[] = [];
  PANEL_SERIES.forEach((regions, i) => {
    regions.forEach((data, r) => {
      series.push({
        type: "scatter",
        name: REGION_NAMES[r],
        xAxisIndex: 2 * i,
        yAxisIndex: 2 * i,
        data,
        symbol: "circle",
        symbolSize: 10,
        itemStyle: { color: REGION_COLORS[r], borderColor: "rgba(40,40,40,0.75)", borderWidth: 0.6, opacity: 1 },
        z: 2,
        silent: true,
      });
    });
    series.push({
      type: "line",
      xAxisIndex: 2 * i,
      yAxisIndex: 2 * i,
      data: [[0, 0], [AXIS_MAX[i], AXIS_MAX[i]]],
      symbol: "none",
      lineStyle: { color: "#000", width: 2.2, type: [8, 5] },
      z: 3,
      silent: true,
    });
  });

  const graphic: any[] = [];
  graphic.push({
    type: "rect",
    z: 0,
    shape: { x: 62, y: 1017, width: 1040, height: 80, r: 3 },
    style: { fill: "#fff", stroke: "#cfcfcf", lineWidth: 2 },
  });
  for (let i = 0; i < 4; i++) {
    graphic.push({
      type: "text", x: X_TITLE_POS[i][0], y: X_TITLE_POS[i][1], z: 10,
      style: { text: X_TITLES[i], font: `25px ${FONT}`, fill: "#333", textAlign: "center", textVerticalAlign: "middle" },
    });
    graphic.push({
      type: "text", x: Y_TITLE_POS[i][0], y: Y_TITLE_POS[i][1], rotation: Math.PI / 2, z: 10,
      style: { text: Y_TITLES[i], font: `25px ${FONT}`, fill: "#333", textAlign: "center", textVerticalAlign: "middle" },
    });
    graphic.push({
      type: "text", x: TAG_POS[i][0], y: TAG_POS[i][1], z: 10,
      style: { text: PANEL_TAGS[i], font: `${TAG_SIZE[i]}px ${FONT}`, fill: "#444", textAlign: "left", textVerticalAlign: "middle" },
    });
    // species label with real subscripts
    const [ms, ss] = LABEL_SIZE[i];
    let cx = LABEL_POS[i][0];
    const cy = LABEL_POS[i][1];
    SPECIES_PARTS[i].forEach(([t, sub]) => {
      const font = `${sub ? ss : ms}px ${BIG_FONT}`;
      graphic.push({
        type: "text", x: cx, y: sub ? cy + 14 : cy, z: 10,
        style: { text: t, font, fill: "#000", textAlign: "left", textVerticalAlign: "middle" },
      });
      cx += textWidth(t, font);
    });
    const [sx, ys] = STATS_POS[i];
    STATS[i].forEach((t, k) => {
      graphic.push({
        type: "text", x: sx, y: ys[k], z: 10,
        style: { text: t, font: `18px ${FONT}`, fill: "#333", textAlign: "left", textVerticalAlign: "middle" },
      });
    });
  }

  const legend = LEGEND_COLUMNS.map((names, c) => ({
    orient: "vertical",
    left: LEGEND_X[c] - 6,
    top: 1029,
    padding: 0,
    data: names,
    icon: "circle",
    itemWidth: 12,
    itemHeight: 12,
    itemGap: 10,
    selectedMode: false,
    z: 5,
    itemStyle: { borderWidth: 0 },
    textStyle: { fontSize: 20, fontFamily: FONT, color: "#222", lineHeight: 20, padding: [0, 0, 0, 8] },
  }));

  return {
    animation: false,
    backgroundColor: "#fff",
    textStyle: { fontFamily: FONT },
    grid,
    xAxis,
    yAxis,
    series,
    legend,
    graphic,
  };
}

export default function App() {
  const ref = useRef<HTMLDivElement>(null);
  useEffect(() => {
    if (!ref.current) return;
    const chart = echarts.init(ref.current, null, { renderer: "svg" });
    chart.setOption(buildOption() as any);
    return () => chart.dispose();
  }, []);
  return <div ref={ref} style={{ position: "absolute", left: 0, top: 0, width: 1100, height: 1084 }} />;
}
